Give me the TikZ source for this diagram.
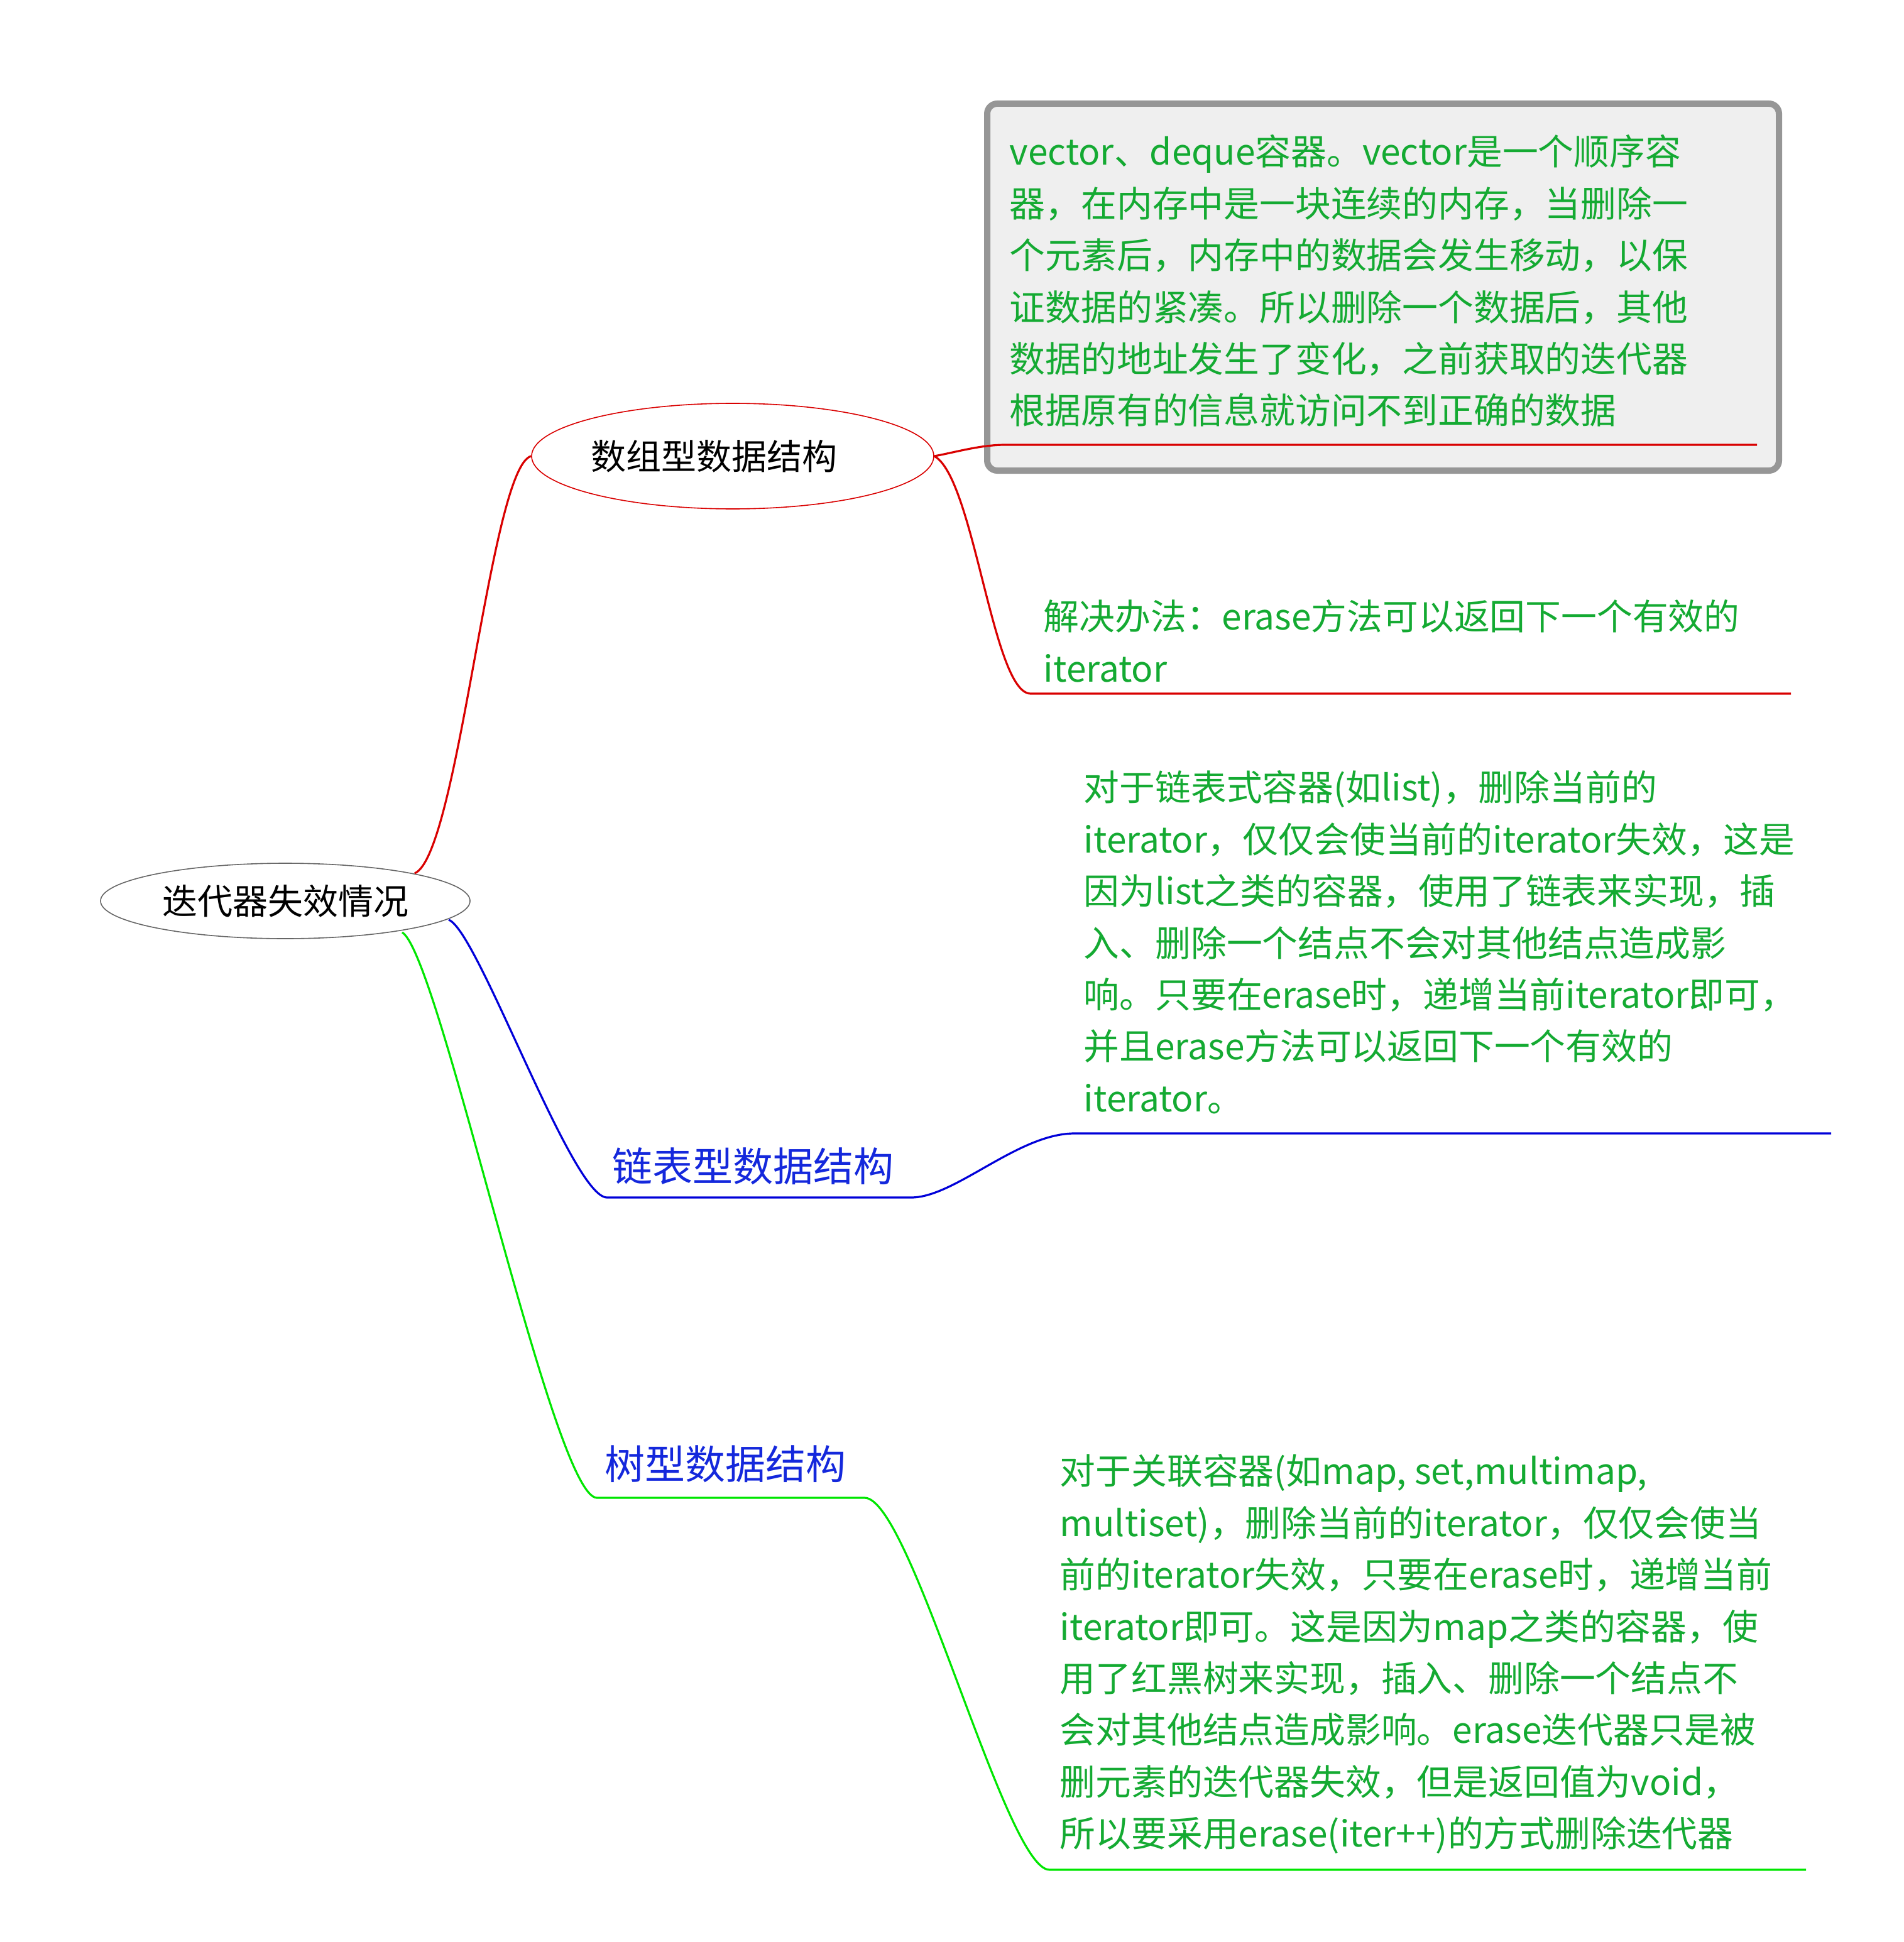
\documentclass[tikz,border=0pt]{standalone}
\usepackage{fontspec}
\setmainfont{Liberation Sans}
\newfontfamily\cjk{Noto Sans CJK SC}
\definecolor{tgreen}{RGB}{20,170,50}
\definecolor{lgreen}{RGB}{0,230,0}
\definecolor{tblue}{RGB}{20,40,220}
\definecolor{boxgray}{RGB}{239,239,239}
\definecolor{bordgray}{RGB}{150,150,150}
\begin{document}
\begin{tikzpicture}[x=0.5pt,y=-0.5pt,
  gtext/.style={anchor=north west,inner sep=0pt,align=left,text=tgreen,
    font=\cjk\fontsize{14.2}{20.6}\selectfont},
  lbl/.style={inner sep=0pt,font=\cjk\fontsize{14}{16}\selectfont},
  ell/.style={ellipse,draw,inner sep=0pt}]
\useasboundingbox (0,0) rectangle (1514.5,1545.5);
\usetikzlibrary{shapes.geometric}
% box
\node[draw=bordgray,line width=2.5pt,fill=boxgray,rounded corners=4pt,minimum width=315pt,minimum height=146pt,anchor=north west] (box) at (783,80) {};
\node[gtext] (t1) at (803,107) {vector、deque容器。vector是一个顺序容\\器，在内存中是一块连续的内存，当删除一\\个元素后，内存中的数据会发生移动，以保\\证数据的紧凑。所以删除一个数据后，其他\\数据的地址发生了变化，之前获取的迭代器\\根据原有的信息就访问不到正确的数据};
% ellipses
\node[ell,draw=gray!80!black,minimum width=147pt,minimum height=30pt,lbl] (root) at (227,717) {迭代器失效情况};
\node[ell,draw=red!85!black,minimum width=160pt,minimum height=42pt,lbl] (arr) at (583,363) {\hspace*{-15pt}数组型数据结构};
% root to arr
\draw[red!85!black,thick] (330,695) .. controls (365,680) and (390,372) .. (arr.west);
\coordinate (u1a) at (800,354); \coordinate (u1b) at (1398,354);
\draw[red!85!black,thick] (arr.east) .. controls (760,360) and (780,354) .. (u1a) -- (u1b);
\coordinate (u2a) at (820,552); \coordinate (u2b) at (1425,552);
\draw[red!85!black,thick] (arr.east) .. controls (775,380) and (790,552) .. (u2a) -- (u2b);
\node[gtext] (t2) at (830,477) {解决办法：erase方法可以返回下一个有效的\\iterator};
% blue
\coordinate (b1) at (483,953); \coordinate (b2) at (725,953);
\coordinate (b3) at (855,902); \coordinate (b4) at (1457,902);
\draw[blue!85!black,thick] (357,732) .. controls (380,740) and (455,953) .. (b1) -- (b2) .. controls (760,953) and (810,902) .. (b3) -- (b4);
\node[lbl,text=tblue,anchor=base west,font=\cjk\fontsize{16}{18}\selectfont] (lk) at (487,940) {链表型数据结构};
\node[gtext] (t3) at (862,613) {对于链表式容器(如list)，删除当前的\\iterator，仅仅会使当前的iterator失效，这是\\因为list之类的容器，使用了链表来实现，插\\入、删除一个结点不会对其他结点造成影\\响。只要在erase时，递增当前iterator即可，\\并且erase方法可以返回下一个有效的\\iterator。};
% green
\coordinate (g1) at (475,1192); \coordinate (g2) at (688,1192);
\coordinate (g3) at (835,1488); \coordinate (g4) at (1437,1488);
\draw[lgreen,thick] (320,742) .. controls (350,760) and (440,1192) .. (g1) -- (g2) .. controls (725,1192) and (800,1488) .. (g3) -- (g4);
\node[lbl,text=tblue,anchor=base west,font=\cjk\fontsize{16}{18}\selectfont] (tr) at (481,1177) {树型数据结构};
\node[gtext] (t4) at (843,1157) {对于关联容器(如map, set,multimap,\\multiset)，删除当前的iterator，仅仅会使当\\前的iterator失效，只要在erase时，递增当前\\iterator即可。这是因为map之类的容器，使\\用了红黑树来实现，插入、删除一个结点不\\会对其他结点造成影响。erase迭代器只是被\\删元素的迭代器失效，但是返回值为void，\\所以要采用erase(iter++)的方式删除迭代器};
\end{tikzpicture}
\end{document}
